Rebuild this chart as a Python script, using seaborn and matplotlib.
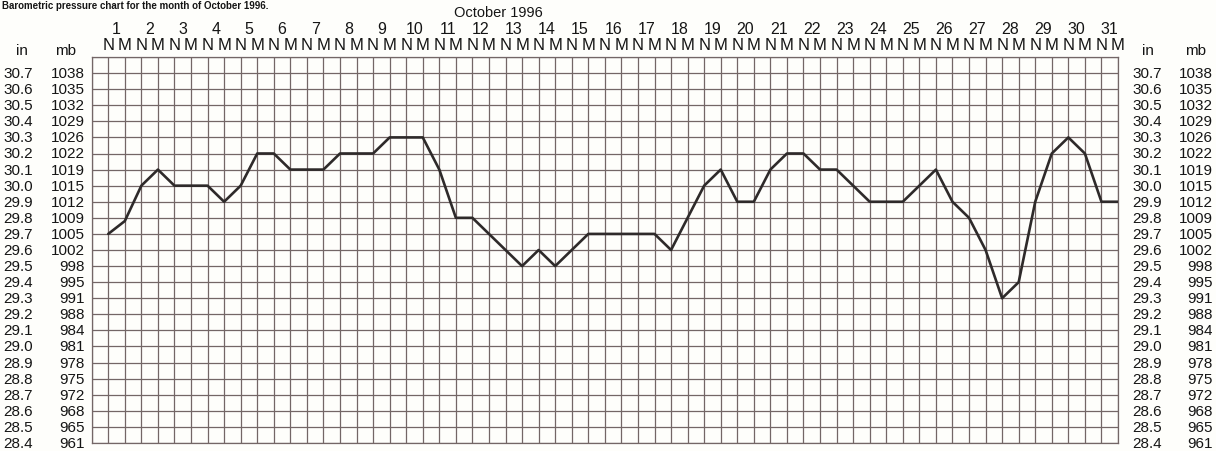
import numpy as np
import pandas as pd
import matplotlib
matplotlib.use("Agg")
import matplotlib.pyplot as plt
import matplotlib.transforms as mtransforms
import seaborn as sns

# Barometric readings, noon (N) and midnight (M) for each day, in inches of mercury
days = list(range(1, 32))
readings_in = [
    29.70, 29.78, 30.00, 30.10, 30.00, 30.00, 30.00, 29.90, 30.00, 30.20,
    30.20, 30.10, 30.10, 30.10, 30.20, 30.20, 30.20, 30.30, 30.30, 30.30,
    30.10, 29.80, 29.80, 29.70, 29.60, 29.50, 29.60, 29.50, 29.60, 29.70,
    29.70, 29.70, 29.70, 29.70, 29.60, 29.80, 30.00, 30.10, 29.90, 29.90,
    30.10, 30.20, 30.20, 30.10, 30.10, 30.00, 29.90, 29.90, 29.90, 30.00,
    30.10, 29.90, 29.80, 29.60, 29.30, 29.40, 29.90, 30.20, 30.30, 30.20,
    29.90, 29.90,
]
half_day_labels = ["N", "M"] * len(days)
inch_labels = ["30.7", "30.6", "30.5", "30.4", "30.3", "30.2", "30.1", "30.0",
               "29.9", "29.8", "29.7", "29.6", "29.5", "29.4", "29.3", "29.2",
               "29.1", "29.0", "28.9", "28.8", "28.7", "28.6", "28.5", "28.4"]
mb_labels = ["1038", "1035", "1032", "1029", "1026", "1022", "1019", "1015",
             "1012", "1009", "1005", "1002", "998", "995", "991", "988",
             "984", "981", "978", "975", "972", "968", "965", "961"]

df = pd.DataFrame({"slot": np.arange(1, len(readings_in) + 1),
                   "pressure": readings_in})

sns.set_theme(style="white")
plt.rcParams["font.family"] = ["Liberation Sans", "DejaVu Sans"]

W, H = 1216, 452
fig = plt.figure(figsize=(W / 100, H / 100), dpi=100)
fig.patch.set_facecolor("#fefefb")
left, right, top, bottom = 91.7, 1118.0, 58.0, 444.0
ax = fig.add_axes([left / W, 1 - bottom / H, (right - left) / W, (bottom - top) / H])
ax.set_facecolor("#fefefb")

sns.lineplot(data=df, x="slot", y="pressure", ax=ax, color="#2e2a2a",
             linewidth=1.9, zorder=3)

n_slots = len(half_day_labels)
ax.set_xlim(0, n_slots)
ax.set_ylim(28.4, 30.8)

grid_color = "#736666"
ax.set_xticks(np.arange(0, n_slots + 1))
ax.set_yticks(np.round(np.arange(28.4, 30.81, 0.1), 1))
ax.grid(True, color=grid_color, linewidth=0.9)
for s in ax.spines.values():
    s.set_color(grid_color)
    s.set_linewidth(0.9)
ax.tick_params(axis="both", length=0, labelleft=False, labelbottom=False,
               labeltop=False)
ax.set_xlabel("")
ax.set_ylabel("")

txt = "#151515"
# N / M labels along the top, one per vertical grid line, day numbers between
top_tr = mtransforms.blended_transform_factory(ax.transData, fig.transFigure)
for i, lab in enumerate(half_day_labels, start=1):
    ax.text(i, 1 - 46 / H, lab, transform=top_tr, ha="center", va="center",
            fontsize=12, color=txt)
for d in days:
    ax.text(2 * d - 0.5, 1 - 29 / H, str(d), transform=top_tr, ha="center",
            va="center", fontsize=11.5, color=txt)
fig.text(498 / W, 1 - 13 / H, "October 1996", ha="center", va="center",
         fontsize=10.5, color=txt)

# Scale labels on both sides: inches and millibars
side_tr = mtransforms.blended_transform_factory(fig.transFigure, ax.transData)
inch_vals = [float(v) for v in inch_labels]
fs = 11
for v, s_in, s_mb in zip(inch_vals, inch_labels, mb_labels):
    ax.text(3 / W, v, s_in, transform=side_tr, ha="left", va="center",
            fontsize=fs, color=txt, clip_on=False)
    ax.text(85 / W, v, s_mb, transform=side_tr, ha="right", va="center",
            fontsize=fs, color=txt, clip_on=False)
    ax.text(1132 / W, v, s_in, transform=side_tr, ha="left", va="center",
            fontsize=fs, color=txt, clip_on=False)
    ax.text(1213 / W, v, s_mb, transform=side_tr, ha="right", va="center",
            fontsize=fs, color=txt, clip_on=False)
for x_in, x_mb in ((22 / W, 66 / W), (1148 / W, 1196 / W)):
    fig.text(x_in, 1 - 51 / H, "in", ha="center", va="center", fontsize=fs,
             color=txt)
    fig.text(x_mb, 1 - 51 / H, "mb", ha="center", va="center", fontsize=fs,
             color=txt)

fig.text(2 / W, 1 - 1 / H, "Barometric pressure chart for the month of October 1996.",
         ha="left", va="top", fontsize=7, fontweight="bold", color=txt)

fig.savefig("out.png", dpi=100, facecolor=fig.get_facecolor())
